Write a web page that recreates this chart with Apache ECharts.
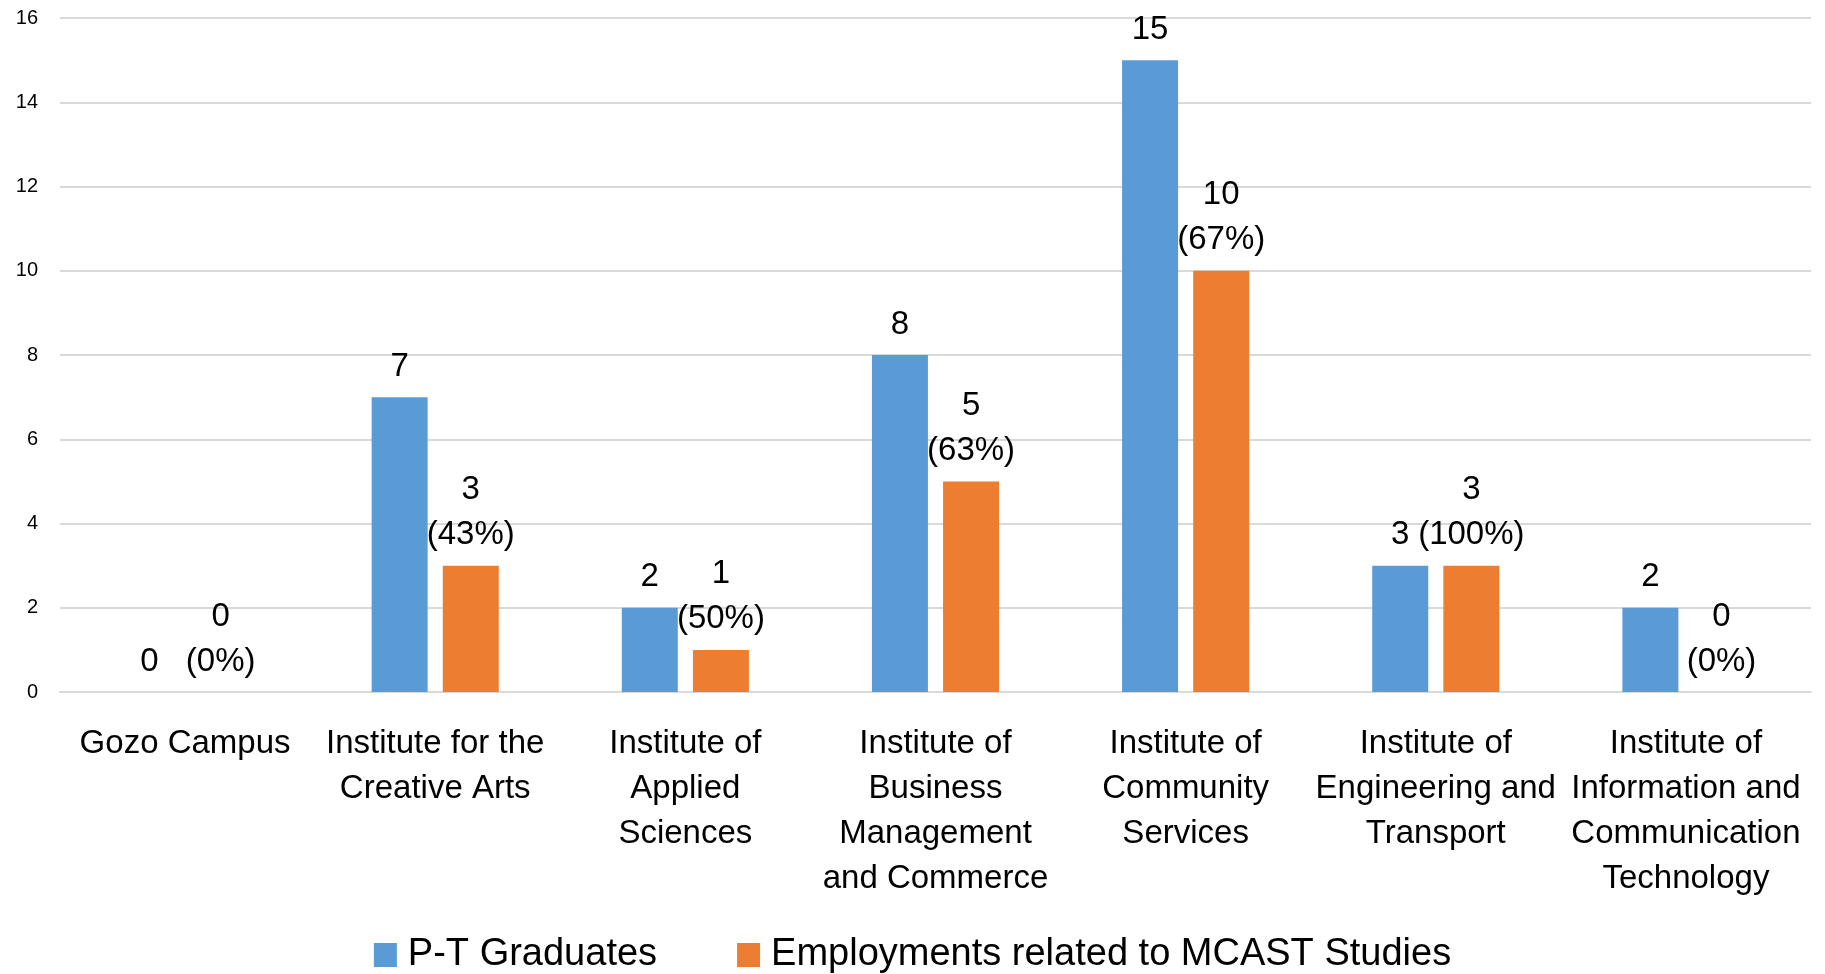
<!DOCTYPE html>
<html>
<head>
<meta charset="utf-8">
<script src="https://cdn.jsdelivr.net/npm/echarts@6/dist/echarts.min.js"></script>
<style>
html,body{margin:0;padding:0;background:#fff;}
#chart{width:1825px;height:974px;}
</style>
</head>
<body>
<div id="chart"></div>
<script>
const categories = [
  "Gozo Campus",
  "Institute for the\nCreative Arts",
  "Institute of\nApplied\nSciences",
  "Institute of\nBusiness\nManagement\nand Commerce",
  "Institute of\nCommunity\nServices",
  "Institute of\nEngineering and\nTransport",
  "Institute of\nInformation and\nCommunication\nTechnology"
];
const graduates = [0, 7, 2, 8, 15, 3, 2];
const employments = [0, 3, 1, 5, 10, 3, 0];
const employmentPct = ["0%", "43%", "50%", "63%", "67%", "100%", "0%"];
const seriesNames = ["P-T Graduates", "Employments related to MCAST Studies"];

const FONT = "'Liberation Sans', Arial, sans-serif";
const chart = echarts.init(document.getElementById('chart'));
chart.setOption({
  animation: false,
  textStyle: { fontFamily: FONT },
  grid: { left: 60, right: 14, top: 18, bottom: 282, containLabel: false },
  legend: {
    top: 931,
    left: 'center',
    itemWidth: 23,
    itemHeight: 24,
    itemGap: 80,
    icon: 'rect',
    textStyle: { fontSize: 38, color: '#000', fontFamily: FONT, padding: [0, 0, 0, 6] },
    data: seriesNames
  },
  xAxis: {
    type: 'category',
    data: categories,
    axisLine: { show: true, lineStyle: { color: '#D9D9D9', width: 2 } },
    axisTick: { show: false },
    axisLabel: {
      interval: 0,
      fontSize: 33,
      lineHeight: 45,
      color: '#000',
      margin: 29,
      fontFamily: FONT,
      align: 'center'
    }
  },
  yAxis: {
    type: 'value',
    min: 0,
    max: 16,
    interval: 2,
    axisLine: { show: false },
    axisTick: { show: false },
    splitLine: { lineStyle: { color: '#D9D9D9', width: 2 } },
    axisLabel: { fontSize: 20, color: '#000', margin: 22, fontFamily: FONT }
  },
  series: [
    {
      name: seriesNames[0],
      type: 'bar',
      data: graduates,
      barWidth: 56,
      barGap: '27%',
      itemStyle: { color: '#5B9BD5' },
      label: {
        show: true,
        position: 'top',
        distance: 8,
        fontSize: 33,
        lineHeight: 45,
        color: '#000',
        fontFamily: FONT
      }
    },
    {
      name: seriesNames[1],
      type: 'bar',
      data: employments,
      barWidth: 56,
      itemStyle: { color: '#ED7D31' },
      label: {
        show: true,
        position: 'top',
        distance: 8,
        fontSize: 33,
        lineHeight: 45,
        color: '#000',
        fontFamily: FONT,
        formatter: p => p.value + '\n(' + employmentPct[p.dataIndex] + ')'
      }
    }
  ]
});
</script>
</body>
</html>
